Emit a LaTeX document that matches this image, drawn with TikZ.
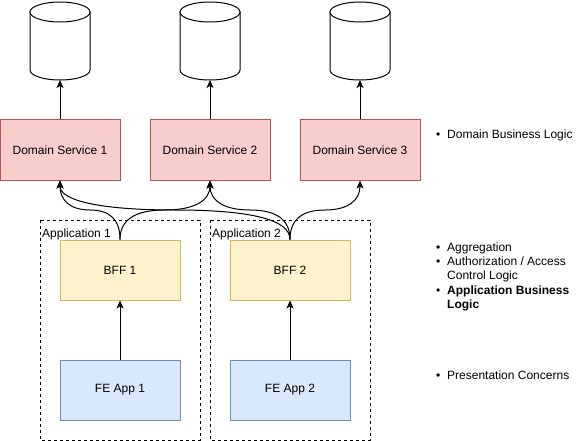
\documentclass[tikz,border=0pt]{standalone}
\usepackage{fontspec}
\setmainfont{Liberation Sans}
\usetikzlibrary{arrows.meta}
\usetikzlibrary{calc}
\definecolor{dsfill}{HTML}{F8CECC}
\definecolor{dsline}{HTML}{B85450}
\definecolor{bfffill}{HTML}{FFF2CC}
\definecolor{bffline}{HTML}{D6B656}
\definecolor{fefill}{HTML}{DAE8FC}
\definecolor{feline}{HTML}{6C8EBF}
\tikzset{
    box/.style={draw,rectangle,minimum width=120,minimum height=60,inner sep=0pt,line width=1pt},
    dsbox/.style={box,fill=dsfill,draw=dsline},
    bffbox/.style={box,fill=bfffill,draw=bffline},
    febox/.style={box,fill=fefill,draw=feline},
    dbline/.style={draw,fill=white,line width=1pt},
    appbox/.style={draw,line width=1pt,dash pattern=on 3pt off 3pt},
    link/.style={line width=1pt,-{Stealth[length=8pt,width=7pt,inset=2pt]}},
    note/.style={anchor=base west,align=left,inner sep=0pt}
}
% database drum, its bottom is the coordinate #1
\newcommand{\dbdrum}[2]{
    \draw[dbline] (#2-30,12) -- (#2-30,70) arc (180:0:30 and 10) -- (#2+30,12);
    \draw[dbline] (#2,12) ellipse (30 and 10);
    \coordinate (#1) at (#2,80);
}
% curved link, bent half way between the two ends
\newcommand{\linkup}[2]{
    \path ($(#1)!.5!(#2)$) coordinate (m);
    \draw[link] (#1) .. controls ($(#1)!2/3!(#1 |- m)$) and ($(m)!2/3!(#1 |- m)$) .. (m)
        .. controls ($(m)!2/3!(#2 |- m)$) and ($(#2)!2/3!(#2 |- m)$) .. (#2);
}
\begin{document}
\begin{tikzpicture}[x=1pt,y=-1pt,font=\fontsize{12}{14}\selectfont]
    \useasboundingbox (0,0) rectangle (581,441);

    % applications
    \draw[appbox] (40,220) rectangle (200,440);
    \draw[appbox] (210,220) rectangle (370,440);
    \node[note] (app1) at (42,237) {Application 1};
    \node[note] (app2) at (212,237) {Application 2};

    % databases
    \dbdrum{db1}{60}
    \dbdrum{db2}{210}
    \dbdrum{db3}{360}

    % domain services
    \node[dsbox] (ds1) at (60,150) {Domain Service 1};
    \node[dsbox] (ds2) at (210,150) {Domain Service 2};
    \node[dsbox] (ds3) at (360,150) {Domain Service 3};

    % bffs and front ends
    \node[bffbox] (bff1) at (120,270) {BFF 1};
    \node[bffbox] (bff2) at (290,270) {BFF 2};
    \node[febox] (fe1) at (120,390) {FE App 1};
    \node[febox] (fe2) at (290,390) {FE App 2};

    \draw[link] (ds1.north) -- (db1);
    \draw[link] (ds2.north) -- (db2);
    \draw[link] (ds3.north) -- (db3);
    \draw[link] (fe1.north) -- (bff1.south);
    \draw[link] (fe2.north) -- (bff2.south);

    \linkup{bff1.north}{ds1.south}
    \linkup{bff1.north}{ds2.south}
    \linkup{bff2.north}{ds1.south}
    \linkup{bff2.north}{ds2.south}
    \linkup{bff2.north}{ds3.south}

    % notes
    \node[note] (n1) at (447,139) {\llap{\textbullet\hspace{7pt}}Domain Business Logic};
    \node[note] (n2) at (447,251) {\llap{\textbullet\hspace{7pt}}Aggregation};
    \node[note] (n3) at (447,279) {\llap{\textbullet\hspace{7pt}}Authorization / Access\\Control Logic};
    \node[note] (n4) at (447,308) {\llap{\textbullet\hspace{7pt}}\textbf{Application Business}\\\textbf{Logic}};
    \node[note] (n5) at (447,379) {\llap{\textbullet\hspace{7pt}}Presentation Concerns};
\end{tikzpicture}
\end{document}
